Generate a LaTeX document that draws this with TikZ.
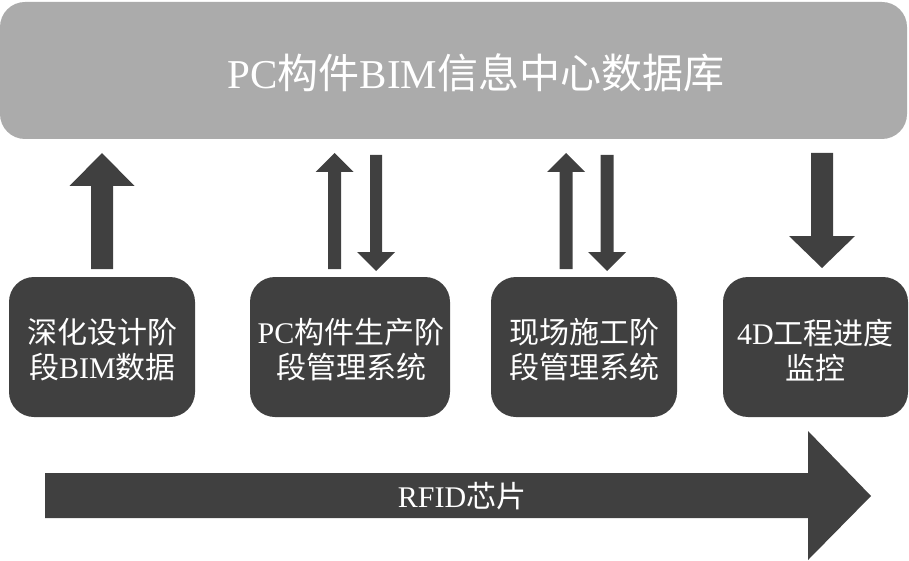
\documentclass[tikz,border=0pt]{standalone}
\usepackage{fontspec}
\setmainfont{Liberation Serif}
\newfontfamily\cjk{Noto Sans CJK SC}
\definecolor{bannergray}{HTML}{ABABAB}
\definecolor{darkgray}{HTML}{404040}
\newcommand\vblock[6]{%
  \fill[darkgray] (#1-#2,#4) -- (#1+#2,#4) -- (#1+#2,#5) -- (#1+#3,#5) -- (#1,#6) -- (#1-#3,#5) -- (#1-#2,#5) -- cycle;}
\begin{document}
\begin{tikzpicture}[x=1pt,y=-1pt,
  banner/.style={fill=bannergray, rounded corners=25pt, minimum width=907pt, minimum height=137pt, inner sep=0pt},
  bannertext/.style={text=white, inner sep=0pt, font=\fontsize{41}{45}\selectfont},
  stagebox/.style={fill=darkgray, rounded corners=25pt, minimum height=140pt, inner sep=0pt},
  stagetext/.style={text=white, align=center, inner sep=0pt, font=\fontsize{30}{35}\selectfont}]
\useasboundingbox (0,0) rectangle (909,561);
\node[banner] (db) at (453.5,70.5) {};
\node[bannertext] (dbt) at (476,73) {PC{\cjk 构件}BIM{\cjk 信息中心数据库}};
\node[stagebox, minimum width=186pt] (b1) at (102,347) {};
\node[stagebox, minimum width=200pt] (b2) at (350,347) {};
\node[stagebox, minimum width=186pt] (b3) at (584,347) {};
\node[stagebox, minimum width=185pt] (b4) at (815.5,347) {};
\node[stagetext] (t1) at (102.5,350) {{\cjk 深化设计阶}\\{\cjk 段}BIM{\cjk 数据}};
\node[stagetext] (t2) at (351,350) {PC{\cjk 构件生产阶}\\{\cjk 段管理系统}};
\node[stagetext] (t3) at (584,350) {{\cjk 现场施工阶}\\{\cjk 段管理系统}};
\node[stagetext] (t4) at (815.5,350) {4D{\cjk 工程进度}\\{\cjk 监控}};
% vertical block arrows: cx, half shaft, half head, tail y, head base y, tip y
\vblock{102}{11}{32.5}{269}{186}{153}
\vblock{334.5}{6.5}{19}{269}{172}{153}
\vblock{376}{6}{19}{155}{252}{271}
\vblock{566}{6.5}{19}{269}{172}{153}
\vblock{607}{6.5}{19}{155}{252}{271}
\vblock{822}{11}{33}{153}{236}{268}
% bottom arrow
\fill[darkgray] (45,473) -- (808,473) -- (808,431) -- (871,496) -- (808,560) -- (808,518) -- (45,518) -- cycle;
\node[text=white, font=\fontsize{30}{35}\selectfont, inner sep=0pt] (rfid) at (462,496) {RFID{\cjk 芯片}};
\end{tikzpicture}
\end{document}
